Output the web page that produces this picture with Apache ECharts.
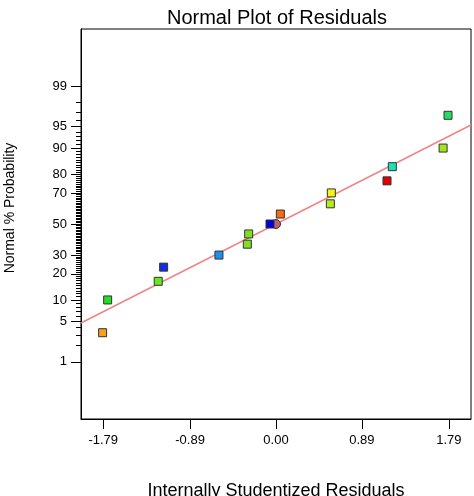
<!DOCTYPE html>
<html><head><meta charset="utf-8">
<script src="https://cdn.jsdelivr.net/npm/echarts@6/dist/echarts.min.js"></script>
<style>html,body{margin:0;padding:0;background:#fff}#c{width:474px;height:496px}</style>
</head><body><div id="c"></div>
<script>
// ---- data ----
const residuals = [-1.796, -1.744, -1.220, -1.164, -0.591, -0.297, -0.283, -0.062, 0.045, 0.563, 0.573, 1.150, 1.205, 1.731, 1.782];
const probabilities = [3.33, 10.0, 16.67, 23.33, 30.0, 36.67, 43.33, 50.0, 56.67, 63.33, 70.0, 76.67, 83.33, 90.0, 96.67];
const pointColors = ['#f4a020', '#22dd22', '#66e822', '#1030e0', '#1e8ef0', '#80e020', '#80e020', '#0000e0', '#f86a10', '#b4ec18', '#f4f414', '#e00000', '#18e4b8', '#a4e41c', '#22dc64'];
const circleResid = [0.0];
const circleProb = [50.0];
const lineResid = [-2.02, 2.02];
const lineProb = [4.74, 95.26];
const xTicks = [-1.79, -0.89, 0.00, 0.89, 1.79];
const yMajorProb = [1, 5, 10, 20, 30, 50, 70, 80, 90, 95, 99];
const yMinorProb = [2,3,4,6,7,8,9,11,12,13,14,15,16,17,18,19,21,22,23,24,25,26,27,28,29,31,32,33,34,35,36,37,38,39,40,41,42,43,44,45,46,47,48,49,51,52,53,54,55,56,57,58,59,60,61,62,63,64,65,66,67,68,69,71,72,73,74,75,76,77,78,79,81,82,83,84,85,86,87,88,89,91,92,93,94,96,97,98];
const xRange = [-2.02, 2.02];
const yProbRange = [0.05, 99.95];

// inverse normal CDF (Acklam)
function probit(pct) {
  const p = pct / 100;
  const a = [-3.969683028665376e+01, 2.209460984245205e+02, -2.759285104469687e+02, 1.383577518672690e+02, -3.066479806614716e+01, 2.506628277459239e+00];
  const b = [-5.447609879822406e+01, 1.615858368580409e+02, -1.556989798598866e+02, 6.680131188771972e+01, -1.328068155288572e+01];
  const c = [-7.784894002430293e-03, -3.223964580411365e-01, -2.400758277161838e+00, -2.549732539343734e+00, 4.374664141464968e+00, 2.938163982698783e+00];
  const d = [7.784695709041462e-03, 3.224671290700398e-01, 2.445134137142996e+00, 3.754408661907416e+00];
  const pl = 0.02425, ph = 1 - pl;
  let q, r;
  if (p < pl) { q = Math.sqrt(-2 * Math.log(p)); return (((((c[0]*q+c[1])*q+c[2])*q+c[3])*q+c[4])*q+c[5]) / ((((d[0]*q+d[1])*q+d[2])*q+d[3])*q+1); }
  if (p <= ph) { q = p - 0.5; r = q*q; return (((((a[0]*r+a[1])*r+a[2])*r+a[3])*r+a[4])*r+a[5])*q / (((((b[0]*r+b[1])*r+b[2])*r+b[3])*r+b[4])*r+1); }
  q = Math.sqrt(-2 * Math.log(1 - p));
  return -(((((c[0]*q+c[1])*q+c[2])*q+c[3])*q+c[4])*q+c[5]) / ((((d[0]*q+d[1])*q+d[2])*q+d[3])*q+1);
}

const yMin = probit(yProbRange[0]), yMax = probit(yProbRange[1]);
const majorZ = yMajorProb.map(probit);
const minorZ = yMinorProb.map(probit);
const FONT = '"Liberation Sans", Arial, sans-serif';

const pts = residuals.map((r, i) => ({ value: [r, probit(probabilities[i])], itemStyle: { color: pointColors[i] } }));
const circ = circleResid.map((r, i) => [r, probit(circleProb[i])]);
const line = lineResid.map((r, i) => [r, probit(lineProb[i])]);

const chart = echarts.init(document.getElementById('c'), null, { renderer: 'canvas' });
chart.setOption({
  animation: false,
  backgroundColor: '#ffffff',
  textStyle: { fontFamily: FONT },
  title: {
    text: 'Normal Plot of Residuals',
    left: 272, top: 3, textAlign: 'center',
    textStyle: { fontFamily: FONT, fontSize: 20, fontWeight: 'normal', color: '#000' }
  },
  grid: { left: 81, right: 3, top: 29, bottom: 77, containLabel: false, outerBoundsMode: 'none', show: true, borderColor: '#000', borderWidth: 1, backgroundColor: 'transparent' },
  xAxis: {
    type: 'value', min: xRange[0], max: xRange[1],
    name: 'Internally Studentized Residuals', nameLocation: 'middle', nameGap: 63,
    nameTextStyle: { fontFamily: FONT, fontSize: 18, color: '#000' },
    axisLine: { show: true, onZero: false, lineStyle: { color: '#000', width: 1 } },
    axisTick: { show: true, inside: false, length: 10, customValues: xTicks, lineStyle: { color: '#000' } },
    axisLabel: { show: true, margin: 15, fontSize: 13, color: '#000', fontFamily: FONT, customValues: xTicks,
      formatter: v => v.toFixed(2) },
    splitLine: { show: false }
  },
  yAxis: [{
    type: 'value', min: yMin, max: yMax, position: 'left',
    name: 'Normal % Probability', nameLocation: 'middle', nameGap: 64,
    nameTextStyle: { fontFamily: FONT, fontSize: 14, color: '#000', padding: [0, 0, 0, 32] },
    axisLine: { show: true, onZero: false, lineStyle: { color: '#000', width: 1 } },
    axisTick: { show: true, inside: false, length: 10, customValues: majorZ, lineStyle: { color: '#000' } },
    axisLabel: { show: true, margin: 14, fontSize: 13, color: '#000', fontFamily: FONT, customValues: majorZ,
      formatter: v => { let best = 0, bd = 1e9; majorZ.forEach((z, i) => { const dd = Math.abs(z - v); if (dd < bd) { bd = dd; best = i; } }); return String(yMajorProb[best]); } },
    splitLine: { show: false }
  }, {
    type: 'value', min: yMin, max: yMax, position: 'left', offset: 0,
    axisLine: { show: false, onZero: false },
    axisTick: { show: true, inside: false, length: 5, customValues: minorZ, lineStyle: { color: '#000' } },
    axisLabel: { show: false },
    splitLine: { show: false }
  }],
  series: [
    { type: 'line', data: line, symbol: 'none', lineStyle: { color: '#f08484', width: 1.5 }, z: 1, silent: true },
    { type: 'scatter', data: circ, symbol: 'circle', symbolSize: 9, itemStyle: { color: '#c0606c', borderColor: '#333', borderWidth: 1, opacity: 1 }, z: 2 },
    { type: 'scatter', data: pts, symbol: 'rect', symbolSize: 8, itemStyle: { borderColor: '#333', borderWidth: 1, opacity: 1 }, z: 3 }
  ]
});
</script></body></html>
